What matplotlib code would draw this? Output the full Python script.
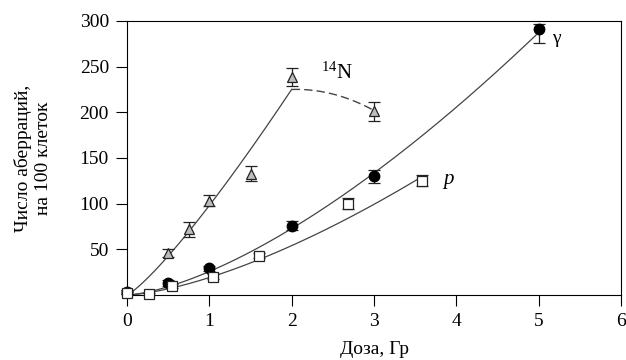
import numpy as np
import matplotlib
matplotlib.use("Agg")
import matplotlib.pyplot as plt

plt.rcParams['font.family'] = ['Liberation Serif', 'DejaVu Serif']
plt.rcParams['mathtext.fontset'] = 'custom'
plt.rcParams['mathtext.rm'] = 'Liberation Serif'
plt.rcParams['mathtext.it'] = 'Liberation Serif:italic'

# 14N (triangles)
n_dose = [0.0, 0.5, 0.75, 1.0, 1.5, 2.0, 3.0]
n_val = [3, 46, 72, 103, 133, 239, 201]
n_err = [2, 4, 8, 6, 8, 10, 10]
# gamma (circles)
g_dose = [0.0, 0.5, 1.0, 2.0, 3.0, 5.0]
g_val = [3, 13, 29, 76, 130, 291]
g_err_lo = [2, 3, 3, 5, 7, 15]
g_err_hi = [2, 3, 3, 5, 7, 6]
# protons (squares)
p_dose = [0.0, 0.27, 0.55, 1.05, 1.6, 2.69, 3.58]
p_val = [2, 1, 10, 20, 43, 100, 125]
p_err = [1, 1, 2, 3, 3, 6, 6]

# fitted curves: y = a * D ** n
n_fit = (98.0, 1.2)
n_fit_range = (0.0, 2.0)
n_dash = [(2.0, 225), (2.5, 220), (3.0, 202)]
g_fit = (25.7, 1.5)
g_fit_range = (0.0, 4.97)
p_fit = (19.1, 1.5)
p_fit_range = (0.0, 3.57)

xticks = [0, 1, 2, 3, 4, 5, 6]
yticks = [50, 100, 150, 200, 250, 300]

fig = plt.figure(figsize=(6.26, 3.6), dpi=100)
ax = fig.add_axes([0.2029, 0.1806, 0.992 - 0.2029, 0.9417 - 0.1806])

lc = '#444444'
def curve(coef, rng):
    d = np.linspace(rng[0], rng[1], 200)
    return d, coef[0] * d ** coef[1]

d, y = curve(n_fit, n_fit_range)
ax.plot(d, y, color=lc, lw=0.9, zorder=2)
dd = np.array([p[0] for p in n_dash]); yy = np.array([p[1] for p in n_dash])
cf = np.polyfit(dd, yy, 2)
xs = np.linspace(dd[0], dd[-1], 100)
ax.plot(xs, np.polyval(cf, xs), color=lc, lw=1.0, ls=(0, (6, 3)), zorder=2)
d, y = curve(g_fit, g_fit_range)
ax.plot(d, y, color=lc, lw=0.9, zorder=2)
d, y = curve(p_fit, p_fit_range)
ax.plot(d, y, color=lc, lw=0.9, zorder=2)

ax.errorbar(n_dose, n_val, yerr=n_err, fmt='^', ms=7.5, mfc='#bdbdbd', mec='#222222',
            mew=0.9, ecolor='#222222', elinewidth=0.9, capsize=4.5, capthick=0.9,
            clip_on=False, zorder=4)
ax.errorbar(g_dose, g_val, yerr=[g_err_lo, g_err_hi], fmt='o', ms=7.5, mfc='black', mec='black',
            ecolor='#222222', elinewidth=0.9, capsize=4.5, capthick=0.9,
            clip_on=False, zorder=3)
ax.errorbar(p_dose, p_val, yerr=p_err, fmt='s', ms=6.5, mfc='white', mec='#222222',
            mew=0.9, ecolor='#222222', elinewidth=0.9, capsize=4.5, capthick=0.9,
            clip_on=False, zorder=5)

ax.text(2.55, 243, r'$\mathrm{^{14}N}$', fontsize=15, ha='center', va='center')
ax.text(5.22, 281, 'γ', fontsize=14, ha='center', va='center')
ax.text(3.9, 126, 'p', fontsize=15, style='italic', ha='center', va='center')

ax.set_xlim(0, 6)
ax.set_ylim(0, 300)
ax.set_xticks(xticks)
ax.set_yticks(yticks)
ax.tick_params(direction='out', length=8, width=0.8, labelsize=14, pad=5)
for s in ax.spines.values():
    s.set_linewidth(0.8)
ax.set_xlabel('Доза, Гр', fontsize=14, labelpad=8)
ax.set_ylabel('Число аберраций,\nна 100 клеток', fontsize=14, labelpad=20)

fig.savefig('out.png', dpi=100)
